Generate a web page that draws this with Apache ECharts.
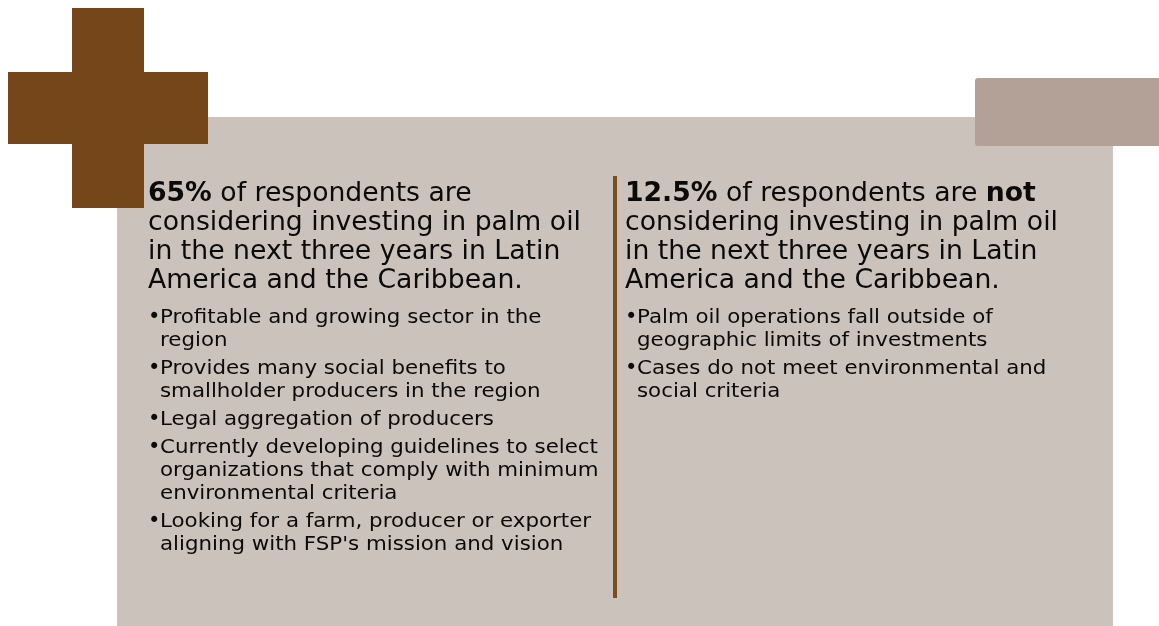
<!DOCTYPE html>
<html>
<head>
<meta charset="utf-8">
<script src="https://cdn.jsdelivr.net/npm/echarts@6/dist/echarts.min.js"></script>
<style>
  html, body { margin: 0; padding: 0; background: #ffffff; }
  #charts { width: 1159px; height: 626px; }
</style>
</head>
<body>
<div id="charts"></div>
<script>
// survey shares shown in the two headlines
var shares = [65, 12.5];

// headline lines ({b|...} marks the bold parts)
var leftHeadline = [
    '{b|' + shares[0] + '%} of respondents are',
    'considering investing in palm oil',
    'in the next three years in Latin',
    'America and the Caribbean.'
];
var rightHeadline = [
    '{b|' + shares[1] + '%} of respondents are {b|not}',
    'considering investing in palm oil',
    'in the next three years in Latin',
    'America and the Caribbean.'
];

// reasons, already wrapped the way the picture shows them
var leftReasons = [
    ['Profitable and growing sector in the', 'region'],
    ['Provides many social benefits to', 'smallholder producers in the region'],
    ['Legal aggregation of producers'],
    ['Currently developing guidelines to select', 'organizations that comply with minimum', 'environmental criteria'],
    ['Looking for a farm, producer or exporter', "aligning with FSP's mission and vision"]
];
var rightReasons = [
    ['Palm oil operations fall outside of', 'geographic limits of investments'],
    ['Cases do not meet environmental and', 'social criteria']
];

var myChart = echarts.init(document.getElementById('charts'), null, {width: 1159, height: 626});

var FONT = '"DejaVu Sans", Verdana, sans-serif';
var brown = '#75461a';
var ink = '#0a0a0a';

// DejaVu is a bit tighter than the original face, stretch it a little
function headline(lines, x) {
    var out = [];
    lines.forEach(function (t, i) {
        out.push({
            type: 'text', x: x, y: 194 + i * 29, scaleX: 1.026,
            style: {
                text: t, fill: ink, font: 'normal 26px ' + FONT,
                textVerticalAlign: 'middle',
                rich: { b: { fontWeight: 'bold', fontSize: 26, fontFamily: FONT, fill: ink } }
            }
        });
    });
    return out;
}

function reasons(items, x) {
    var out = [];
    var y = 318;
    items.forEach(function (lines) {
        out.push({
            type: 'text', x: x, y: y,
            style: { text: '\u2022', fill: ink, font: '21px ' + FONT, textVerticalAlign: 'middle' }
        });
        lines.forEach(function (t, j) {
            out.push({
                type: 'text', x: x + 12, y: y + j * 23, scaleX: 1.067,
                style: { text: t, fill: ink, font: '20px ' + FONT, textVerticalAlign: 'middle' }
            });
        });
        y += (lines.length - 1) * 23 + 28;
    });
    return out;
}

var elements = [
    // panel
    { type: 'rect', shape: { x: 117, y: 117, width: 996, height: 509 }, style: { fill: '#ccc2bc' } },
    // top right tab
    { type: 'rect', shape: { x: 975, y: 78, width: 190, height: 68, r: 3 }, style: { fill: '#b3a197' } },
    // cross
    { type: 'rect', shape: { x: 72, y: 8, width: 72, height: 200 }, style: { fill: brown } },
    { type: 'rect', shape: { x: 8, y: 72, width: 200, height: 72 }, style: { fill: brown } },
    // divider
    { type: 'rect', shape: { x: 613, y: 176, width: 4, height: 422 }, style: { fill: '#7b4e21' } }
];

elements = elements
    .concat(headline(leftHeadline, 148))
    .concat(headline(rightHeadline, 625))
    .concat(reasons(leftReasons, 148))
    .concat(reasons(rightReasons, 625));

var option = {
    animation: false,
    backgroundColor: '#ffffff',
    graphic: { elements: elements }
};

myChart.setOption(option);
</script>
</body>
</html>
